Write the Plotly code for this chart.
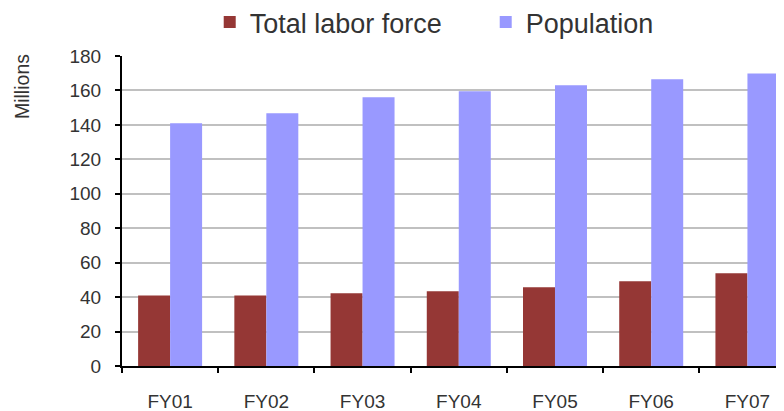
import plotly.graph_objects as go

categories = ["FY01", "FY02", "FY03", "FY04", "FY05", "FY06", "FY07"]
labor_force = [41.0, 41.0, 42.2, 43.4, 45.7, 49.2, 53.8]
population = [140.9, 146.7, 156.0, 159.5, 163.0, 166.5, 169.8]
y_ticks = [0, 20, 40, 60, 80, 100, 120, 140, 160, 180]

font_family = "Liberation Sans, Arial, sans-serif"
text_color = "#333333"

fig = go.Figure()
fig.add_trace(go.Bar(name="Total labor force", x=categories, y=labor_force,
                     marker=dict(color="#953735", line=dict(width=0))))
fig.add_trace(go.Bar(name="Population", x=categories, y=population,
                     marker=dict(color="#9999FF", line=dict(width=0))))

# page body has an 8px default margin, so the figure is 8px smaller than the window
fig.update_layout(
    width=776, height=403,
    margin=dict(l=114, r=0, t=48, b=45, autoexpand=False),
    barmode="group", bargap=0.335, bargroupgap=0,
    plot_bgcolor="white", paper_bgcolor="white",
    font=dict(family=font_family, color=text_color, size=19),
    legend=dict(orientation="h", x=0.1325, xanchor="left", y=1.108, yanchor="middle",
                font=dict(size=27, color=text_color), itemwidth=30, entrywidth=231,
                bgcolor="rgba(0,0,0,0)"),
    showlegend=True,
)
fig.update_xaxes(
    range=[-0.5, 6.38], showgrid=False, showline=True, linecolor="black", linewidth=2,
    ticks="outside", tickson="boundaries", ticklen=5, tickcolor="black", tickwidth=2,
    ticklabelstandoff=17, tickfont=dict(size=19, color=text_color),
)
fig.update_yaxes(
    range=[0, 180], tickvals=y_ticks, showgrid=True, gridcolor="#c0c0c0", gridwidth=2,
    showline=True, linecolor="black", linewidth=2, ticks="outside", ticklen=5,
    tickcolor="black", tickwidth=2, ticklabelstandoff=10, zeroline=False,
    tickfont=dict(size=19, color=text_color),
)
fig.add_annotation(text="Millions", textangle=-90, xref="paper", yref="paper",
                   x=-0.151, y=0.9, xanchor="center", yanchor="middle", showarrow=False,
                   font=dict(size=19.5, color=text_color))

fig.write_html("out.html")
